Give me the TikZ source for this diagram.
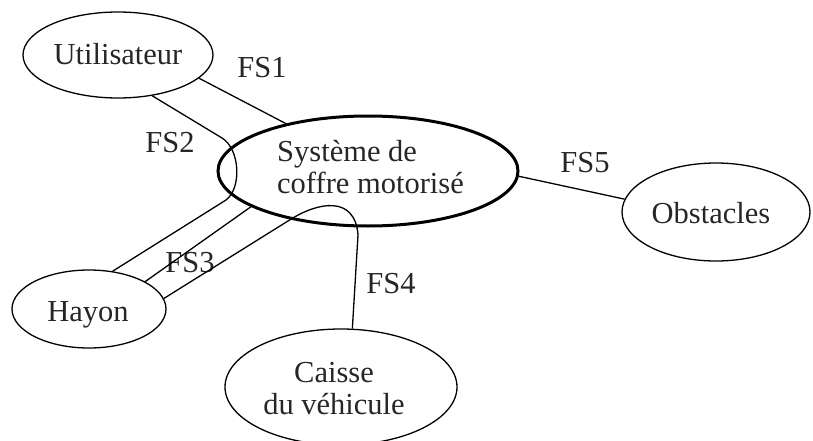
\documentclass[tikz,border=0pt]{standalone}
\usepackage{fontspec}
\setmainfont{Liberation Serif}
\usetikzlibrary{shapes.geometric}
\begin{document}
\begin{tikzpicture}[x=1pt,y=-1pt,
  ell/.style={draw, ellipse, inner sep=0pt, line width=1.3pt},
  lbl/.style={anchor=base, font=\fontsize{30.5}{32}\selectfont, inner sep=0pt, text=black!85},
  con/.style={line width=1.3pt}]
\useasboundingbox (0,0) rectangle (813,441);
% ellipses
\node[ell, minimum width=190pt, minimum height=86pt] (U) at (118,55) {};
\node[ell, line width=3pt, minimum width=300pt, minimum height=110pt] (M) at (368,171) {};
\node[ell, minimum width=188pt, minimum height=98pt] (O) at (716,212) {};
\node[ell, minimum width=154pt, minimum height=78pt] (H) at (89,309) {};
\node[ell, minimum width=232pt, minimum height=116pt] (C) at (341,387) {};
% texts
\node[lbl] (tU) at (118,65) {Utilisateur};
\node[lbl, anchor=base west, align=left] (tM) at (277,193) {Système de\\coffre motorisé};
\node[lbl] (tO) at (711,223) {Obstacles};
\node[lbl] (tH) at (88,321) {Hayon};
\node[lbl, align=center] (tC) at (334,414) {Caisse\\du véhicule};
% function labels
\node[lbl] (l1) at (262,78) {FS1};
\node[lbl] (l2) at (170,152) {FS2};
\node[lbl] (l3) at (190,272) {FS3};
\node[lbl] (l4) at (391,293) {FS4};
\node[lbl] (l5) at (585,172) {FS5};
% connectors
\draw[con] (U.-16) -- (M.150);
\draw[con] (U.-50) -- (222,138) .. controls (240,149) and (242,188) .. (226,200) -- (H.58);
\draw[con] (H.26.6) -- (M.197);
\draw[con] (H.8.6) -- (M.212) .. controls (318,202) and (355,195) .. (358,235) -- (C.79.4);
\draw[con] (M.-2.3) -- (O.172);
\end{tikzpicture}
\end{document}
